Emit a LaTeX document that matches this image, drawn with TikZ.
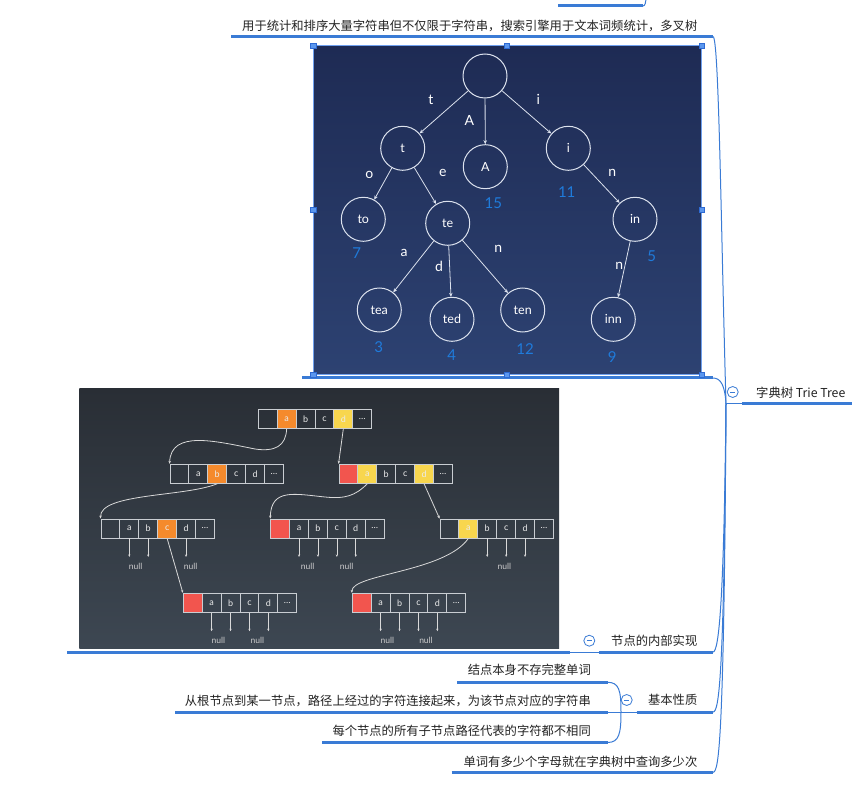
\documentclass[tikz,border=0pt]{standalone}
\usepackage{fontspec}
\usepackage{xcolor}
\usetikzlibrary{arrows.meta,calc}

\newfontfamily\cjk{Noto Sans CJK SC}
\newfontfamily\imgfont{Lato}

\definecolor{mmblue}{HTML}{3A7BD5}
\definecolor{textdark}{HTML}{222222}
\definecolor{trieTop}{HTML}{1E2B54}
\definecolor{trieBot}{HTML}{2D4272}
\definecolor{treeline}{HTML}{DCE2EE}
\definecolor{numblue}{HTML}{1F7BDB}
\definecolor{arrTop}{HTML}{292E35}
\definecolor{arrBot}{HTML}{3D4752}
\definecolor{cellline}{HTML}{C9CDD2}
\definecolor{corange}{HTML}{F58A2C}
\definecolor{cyellow}{HTML}{F8D64E}
\definecolor{cred}{HTML}{F2554E}
\definecolor{handlefill}{HTML}{5B97EE}
\definecolor{handleline}{HTML}{2E6AD3}
\definecolor{selline}{HTML}{6FA0EE}

\tikzset{
  mmtext/.style={font=\cjk\fontsize{12.3}{14}\selectfont, text=textdark, inner sep=0pt},
  uline/.style={mmblue, line width=3pt},
  thinl/.style={mmblue, line width=1pt},
  fold/.style={circle, draw=mmblue, fill=white, line width=0.8pt, minimum size=11pt, inner sep=0pt,
    path picture={\draw[mmblue, line width=0.9pt] ([xshift=-2.5pt]path picture bounding box.center) -- ([xshift=2.5pt]path picture bounding box.center);}},
  tnode/.style={circle, draw=treeline, line width=1pt, minimum size=44pt, inner sep=0pt, text=white,
    font=\imgfont\fontsize{12.5}{12}\selectfont},
  tedge/.style={treeline, line width=0.8pt, -{Stealth[length=4pt,width=3.5pt]}},
  elab/.style={text=white, font=\imgfont\fontsize{14}{14}\selectfont, inner sep=0pt},
  num/.style={text=numblue, font=\imgfont\fontsize{15}{15}\selectfont, inner sep=0pt},
  cell/.style={draw=cellline, line width=0.9pt, minimum width=18.9pt, minimum height=19pt, inner sep=0pt,
    text=white!92!black, font=\imgfont\fontsize{9}{9}\selectfont},
  link/.style={white!85!black, line width=0.8pt, -{Stealth[length=3pt,width=2.5pt]}},
  nullarr/.style={white!85!black, line width=0.7pt, -{Stealth[length=2.5pt,width=2.2pt]}},
  nulltxt/.style={text=white!80!black, font=\imgfont\fontsize{8.5}{9}\selectfont, inner sep=0pt},
  handle/.style={draw=handleline, fill=handlefill, minimum size=5.5pt, inner sep=0pt, line width=0.6pt},
}

% one row of pointer cells: name, top left corner, label/fill list
\newcommand{\arrrow}[3]{%
  \foreach \lab/\col [count=\k from 0] in {#3}
    \node[cell, fill=\col] (#1-\k) at ($(#2)+(\k*18.9+9.45,9.5)$) {\lab};
}

\begin{document}
\begin{tikzpicture}[x=1pt,y=-1pt]
  \useasboundingbox (0,0) rectangle (852,786);
  \fill[white] (0,0) rectangle (852,786);

  % Branch cut off at the top
  \coordinate (prev-l) at (558,6);
  \coordinate (prev-r) at (643,6);
  \coordinate (prev-up) at (646,-4);
  \draw[uline] (prev-l) -- (prev-r);
  \draw[thinl] (prev-r) .. controls (645,6) and (646,3) .. (prev-up);

  % Usage text
  \node[mmtext, anchor=east] (usage) at (697.5,26) {用于统计和排序大量字符串但不仅限于字符串，搜索引擎用于文本词频统计，多叉树};
  \coordinate (usage-l) at (231,36.5);
  \coordinate (usage-r) at (713,36.5);
  \draw[uline] (usage-l) -- (usage-r);

  % Trie picture
  \shade[top color=trieTop, bottom color=trieBot] (313,46) rectangle (701.7,375);
  \coordinate (trie-l) at (302,378);
  \coordinate (trie-r) at (713,378);
  \draw[uline] (trie-l) -- (trie-r);
  \draw[selline, line width=1pt] (313,46) rectangle (701.7,375);

  \node[tnode] (tr-root) at (485,76) {};
  \node[tnode] (tr-t) at (402.7,148.3) {t};
  \node[tnode] (tr-A) at (485.3,166.7) {A};
  \node[tnode] (tr-i) at (568.3,148.3) {i};
  \node[tnode] (tr-to) at (363.3,219.3) {to};
  \node[tnode] (tr-te) at (447.7,223.3) {te};
  \node[tnode] (tr-in) at (635,219.3) {in};
  \node[tnode] (tr-tea) at (379.3,310) {tea};
  \node[tnode] (tr-ted) at (452,319.3) {ted};
  \node[tnode] (tr-ten) at (522.7,310) {ten};
  \node[tnode] (tr-inn) at (613.3,319.3) {inn};

  \draw[tedge] (tr-root) -- (tr-t);
  \draw[tedge] (tr-root) -- (tr-A);
  \draw[tedge] (tr-root) -- (tr-i);
  \draw[tedge] (tr-t) -- (tr-to);
  \draw[tedge] (tr-t) -- (tr-te);
  \draw[tedge] (tr-te) -- (tr-tea);
  \draw[tedge] (tr-te) -- (tr-ted);
  \draw[tedge] (tr-te) -- (tr-ten);
  \draw[tedge] (tr-i) -- (tr-in);
  \draw[tedge] (tr-in) -- (tr-inn);

  % Edge letters
  \node[elab] (el-t) at (431,100) {t};
  \node[elab] (el-A) at (469.3,120) {A};
  \node[elab] (el-i) at (538.3,99.3) {i};
  \node[elab] (el-o) at (369.3,175) {o};
  \node[elab] (el-e) at (442.7,173) {e};
  \node[elab] (el-n1) at (612.3,173) {n};
  \node[elab] (el-a) at (404,253) {a};
  \node[elab] (el-d) at (439,266.5) {d};
  \node[elab] (el-n2) at (498.3,249) {n};
  \node[elab] (el-n3) at (619.3,266) {n};

  % Counts
  \node[num] (nb-A) at (493.3,203.3) {15};
  \node[num] (nb-i) at (566.7,191.7) {11};
  \node[num] (nb-to) at (356.7,253.3) {7};
  \node[num] (nb-in) at (651.7,256) {5};
  \node[num] (nb-tea) at (378.7,346.7) {3};
  \node[num] (nb-ted) at (451.7,355) {4};
  \node[num] (nb-ten) at (525,349.3) {12};
  \node[num] (nb-inn) at (612.3,356.7) {9};

  % Selection handles
  \node[handle] (h1) at (313.3,46) {};
  \node[handle] (h2) at (506.7,46) {};
  \node[handle] (h3) at (701.7,46) {};
  \node[handle] (h4) at (313.3,210) {};
  \node[handle] (h5) at (701.7,210) {};
  \node[handle] (h6) at (313.3,375) {};
  \node[handle] (h7) at (506.7,375) {};
  \node[handle] (h8) at (701.7,375) {};

  % Array picture
  \shade[top color=arrTop, bottom color=arrBot] (79.3,388.3) rectangle (559,648.3);

  \arrrow{r1}{258.3,409.3}{/none, a/corange, b/none, c/none, d/cyellow, \ldots/none}
  \arrrow{r2a}{170,464.3}{/none, a/none, b/corange, c/none, d/none, \ldots/none}
  \arrrow{r2b}{339,464.3}{/cred, a/cyellow, b/none, c/none, d/cyellow, \ldots/none}
  \arrrow{r3a}{101,519}{/none, a/none, b/none, c/corange, d/none, \ldots/none}
  \arrrow{r3b}{270.7,519}{/cred, a/none, b/none, c/none, d/none, \ldots/none}
  \arrrow{r3c}{440,519}{/none, a/cyellow, b/none, c/none, d/none, \ldots/none}
  \arrrow{r4a}{183.3,593.3}{/cred, a/none, b/none, c/none, d/none, \ldots/none}
  \arrrow{r4b}{352.3,593.3}{/cred, a/none, b/none, c/none, d/none, \ldots/none}

  % Pointers between rows
  \draw[link] (r1-1.south) .. controls (286,446) and (275,452) .. (255,449)
    .. controls (215,441) and (171,430) .. (r2a-0.north west);
  \draw[link] (r1-4.south) -- (r2b-0.north west);
  \draw[link] (r2a-2.south) .. controls (185,497) and (100,493) .. (r3a-0.north west);
  \draw[link] (r2b-1.south) .. controls (355,496) and (345,499) .. (325,497)
    .. controls (295,494) and (271,488) .. (r3b-0.north west);
  \draw[link] (r2b-4.south) -- (r3c-0.north west);
  \draw[link] (r3a-3.south) -- (r4a-0.north west);
  \draw[link] (r3c-1.south) .. controls (445,572) and (352,574) .. (r4b-0.north west);

  % Null pointers
  \foreach \c in {1,2,4} \draw[nullarr] (r3a-\c.south) -- ++(0,18.5);
  \foreach \c in {1,2,3,4} \draw[nullarr] (r3b-\c.south) -- ++(0,18.5);
  \foreach \c in {2,3,4} \draw[nullarr] (r3c-\c.south) -- ++(0,18.5);
  \foreach \c in {1,2,3,4} \draw[nullarr] (r4a-\c.south) -- ++(0,18.5);
  \foreach \c in {1,2,3,4} \draw[nullarr] (r4b-\c.south) -- ++(0,18.5);

  \node[nulltxt] (nl1) at (135.7,566) {null};
  \node[nulltxt] (nl2) at (190.7,566) {null};
  \node[nulltxt] (nl3) at (307.7,566) {null};
  \node[nulltxt] (nl4) at (346.7,566) {null};
  \node[nulltxt] (nl5) at (504.3,566) {null};
  \node[nulltxt] (nl6) at (218.3,640) {null};
  \node[nulltxt] (nl7) at (257.3,640) {null};
  \node[nulltxt] (nl8) at (387.3,640) {null};
  \node[nulltxt] (nl9) at (426,640) {null};

  % Inner implementation node
  \coordinate (arr-l) at (67,652);
  \coordinate (arr-r) at (570,652);
  \coordinate (impl-l) at (599,652);
  \coordinate (impl-r) at (713,652);
  \draw[uline] (arr-l) -- (arr-r);
  \draw[thinl] (arr-r) -- (impl-l);
  \draw[uline] (impl-l) -- (impl-r);
  \node[mmtext, anchor=east] (impl) at (697.5,640.5) {节点的内部实现};
  \node[fold] (impl-fold) at (589.3,640.7) {};

  % Basic properties
  \coordinate (basic-hub) at (621,712);
  \coordinate (basic-l) at (636.7,712);
  \coordinate (basic-r) at (713,712);
  \draw[thinl] (basic-hub) -- (basic-l);
  \draw[uline] (basic-l) -- (basic-r);
  \node[mmtext, anchor=east] (basic) at (697.5,700) {基本性质};
  \node[fold] (basic-fold) at (626.7,700) {};

  \node[mmtext, anchor=east] (p1) at (591,670) {结点本身不存完整单词};
  \node[mmtext, anchor=east] (p2) at (591,701) {从根节点到某一节点，路径上经过的字符连接起来，为该节点对应的字符串};
  \node[mmtext, anchor=east] (p3) at (591,731) {每个节点的所有子节点路径代表的字符都不相同};
  \coordinate (p1-l) at (457,682.3);
  \coordinate (p1-r) at (607.5,682.3);
  \coordinate (p2-l) at (175,712);
  \coordinate (p2-r) at (607.5,712);
  \coordinate (p3-l) at (322.3,742.5);
  \coordinate (p3-r) at (607.5,742.5);
  \draw[uline] (p1-l) -- (p1-r);
  \draw[uline] (p2-l) -- (p2-r);
  \draw[uline] (p3-l) -- (p3-r);
  \draw[thinl] (basic-hub) .. controls (621,690) and (619,682.3) .. (p1-r);
  \draw[thinl] (basic-hub) -- (p2-r);
  \draw[thinl] (basic-hub) .. controls (621,734) and (619,742.5) .. (p3-r);

  % Lookup count
  \node[mmtext, anchor=east] (count) at (697.5,761.5) {单词有多少个字母就在字典树中查询多少次};
  \coordinate (count-l) at (451.7,772.3);
  \coordinate (count-r) at (713,772.3);
  \draw[uline] (count-l) -- (count-r);

  % Root topic
  \node[mmtext, anchor=west] (root) at (756,392.5) {字典树 Trie Tree};
  \coordinate (hub) at (726,404);
  \coordinate (root-l) at (742,404);
  \coordinate (root-r) at (852,404);
  \draw[thinl] (hub) -- (root-l);
  \draw[uline] (root-l) -- (root-r);

  % Branches from the root
  \draw[thinl] (hub) .. controls (721,230) and (719,36.5) .. (usage-r);
  \draw[thinl] (hub) .. controls (725,386) and (721,378) .. (trie-r);
  \draw[thinl] (hub) .. controls (724,600) and (719,652) .. (impl-r);
  \draw[thinl] (hub) .. controls (724,680) and (719,712) .. (basic-r);
  \draw[thinl] (hub) .. controls (724,740) and (719,772.3) .. (count-r);
  \node[fold] (root-fold) at (732.7,392) {};

\end{tikzpicture}
\end{document}
